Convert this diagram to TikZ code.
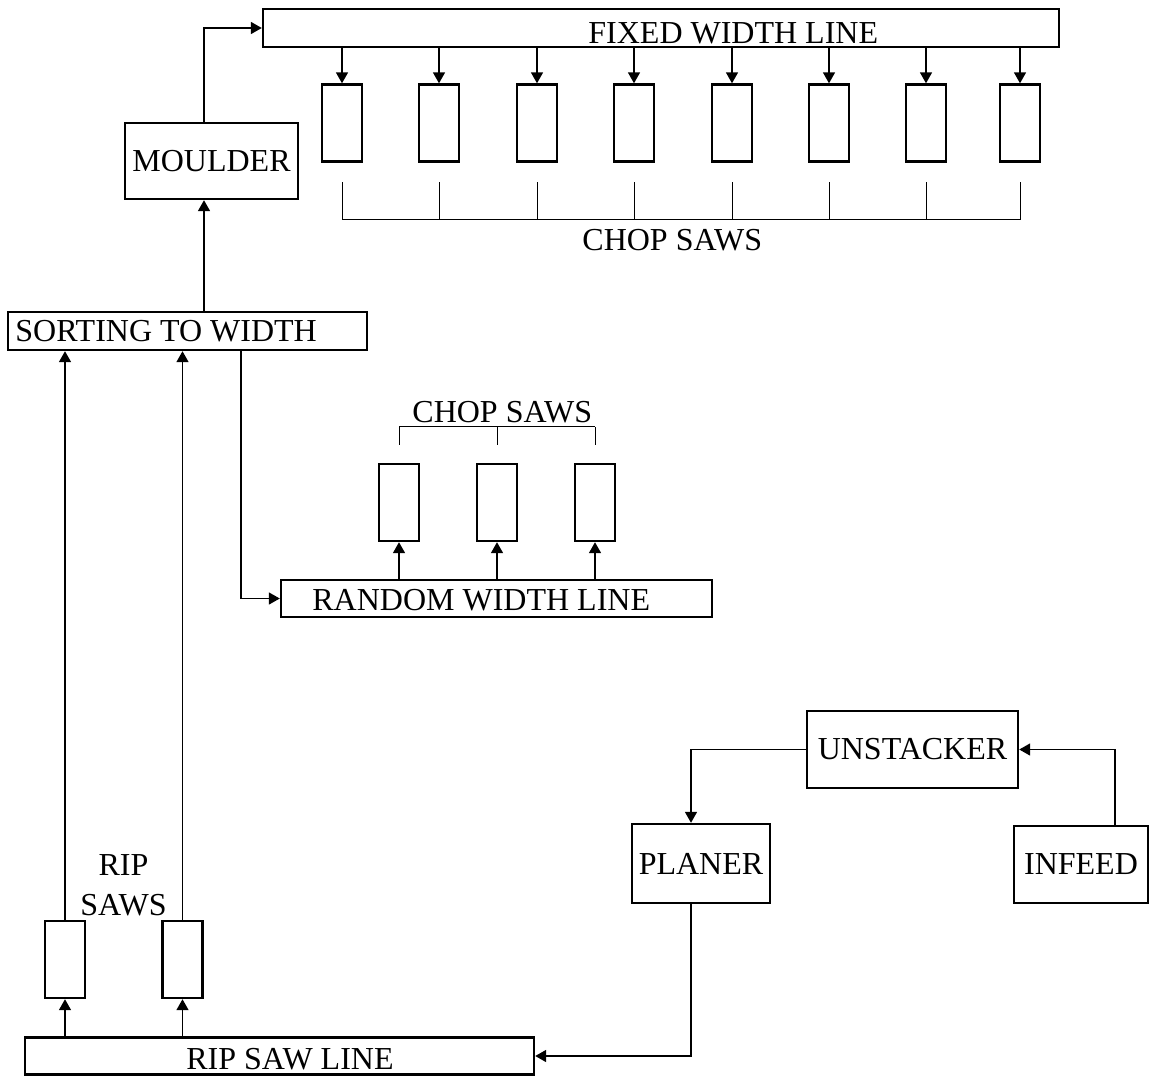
\documentclass[tikz,border=0pt]{standalone}
\usepackage{fontspec}
\setmainfont{Liberation Serif}
\usetikzlibrary{arrows.meta,positioning}

\begin{document}
\begin{tikzpicture}[x=0.5pt,y=-0.5pt,>={Triangle[width=6pt,length=5.5pt]},
    every node/.style={font=\fontsize{16}{19}\selectfont},
    box/.style={draw,line width=1.2pt,inner sep=0pt},
    saw/.style={box,minimum width=20pt,minimum height=38.5pt},
    flow/.style={->,line width=0.8pt},
    bracket/.style={line width=0.5pt},
    lbl/.style={inner sep=0pt,anchor=base west}]
  \useasboundingbox (0,0) rectangle (1150,1076);

  % fixed width line with its chop saws
  \node[box,minimum width=398pt,minimum height=19pt] (fixed) at (661,28) {};
  \node[lbl] (fixedtxt) at (588,43) {FIXED WIDTH LINE};
  \foreach \x [count=\i] in {342,439,537,634,732,829,926,1020}{
    \node[saw] (c\i) at (\x,123) {};
    \draw[flow] (fixed.south -| c\i.north) -- (c\i.north);
    \coordinate (t\i) at ([yshift=-28.5pt]c\i.south);
    \draw[bracket] (t\i) -- ++(0,-38);
  }
  \draw[bracket] (t1) -- (t8);
  \node[lbl] (choptop) at (582,250) {CHOP SAWS};

  % moulder and sorting
  \node[box,minimum width=86.5pt,minimum height=38pt] (moulder) at (211.5,161) {MOULDER};
  \node[box,minimum width=179.5pt,minimum height=19pt] (sort) at (187.5,331) {};
  \node[lbl] (sorttxt) at (15,341) {SORTING TO WIDTH};
  \coordinate (mx) at ([xshift=-3.75pt]moulder.south);
  \draw[flow] (sort.north -| mx) -- (mx);
  \draw[flow] ([xshift=-3.75pt]moulder.north) |- (fixed.west);

  % random width line
  \node[box,minimum width=215.5pt,minimum height=18.5pt] (random) at (496.5,598.5) {};
  \node[lbl] (randomtxt) at (312,610) {RANDOM WIDTH LINE};
  \draw[flow] ([xshift=26.75pt]sort.south) |- (random.west);
  \foreach \x [count=\i] in {399,497,595}{
    \node[saw] (r\i) at (\x,502.5) {};
    \draw[flow] (random.north -| r\i.south) -- (r\i.south);
    \coordinate (u\i) at ([yshift=18pt]r\i.north);
    \draw[bracket] (u\i) -- ++(0,18);
  }
  \draw[bracket] (u1) -- (u3);
  \node[lbl] (chopmid) at (412,422) {CHOP SAWS};

  % rip saw line
  \node[box,minimum width=254.5pt,minimum height=18.5pt] (rip) at (279.5,1056) {};
  \node[lbl] (riptxt) at (186,1069) {RIP SAW LINE};
  \foreach \x [count=\i] in {65,182.5}{
    \node[saw] (p\i) at (\x,959.5) {};
    \draw[flow] (rip.north -| p\i.south) -- (p\i.south);
    \draw[flow] (p\i.north) -- (sort.south -| p\i.north);
  }
  \node[lbl,anchor=base] (riplbl) at (123.5,875) {RIP};
  \node[lbl,anchor=base] (sawslbl) at (123.5,915) {SAWS};

  % infeed, unstacker, planer
  \node[box,minimum width=105.5pt,minimum height=38.5pt] (unstack) at (912.5,749.5) {UNSTACKER};
  \node[box,minimum width=69pt,minimum height=39.5pt] (planer) at (701,863.5) {PLANER};
  \node[box,minimum width=67pt,minimum height=38.5pt] (infeed) at (1081,864.5) {INFEED};
  \draw[flow] ([xshift=17pt]infeed.north) |- (unstack.east);
  \draw[flow] (unstack.west) -| ([xshift=-5pt]planer.north);
  \draw[flow] ([xshift=-5pt]planer.south) |- (rip.east);
\end{tikzpicture}
\end{document}
